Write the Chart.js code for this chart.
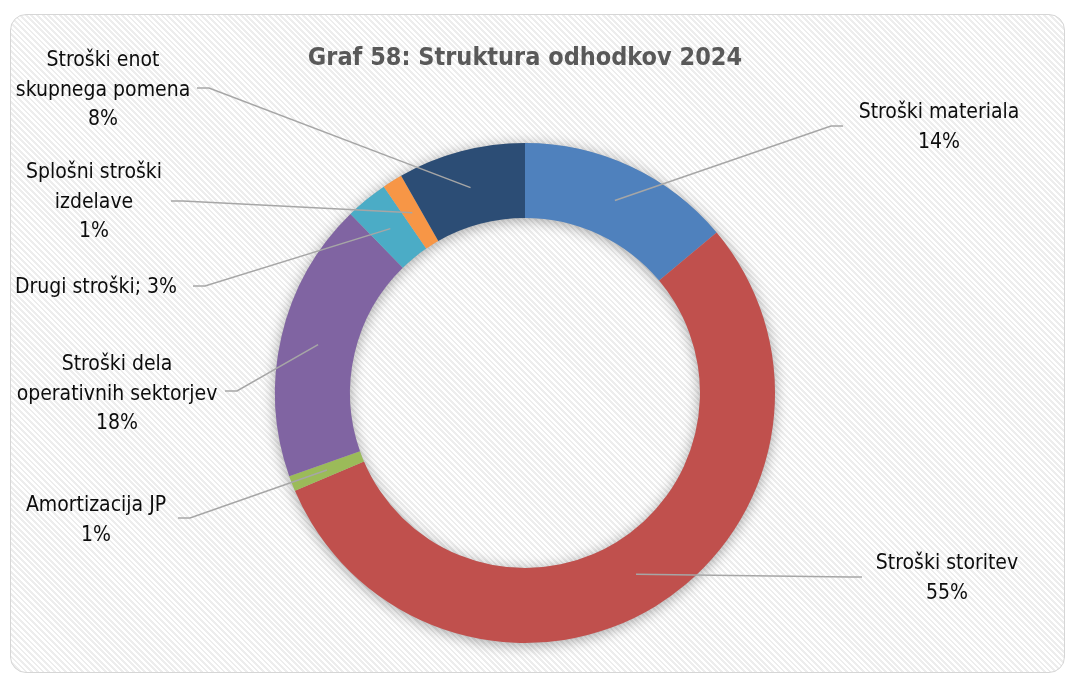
<!DOCTYPE html>
<html lang="sl">
<head>
<meta charset="utf-8">
<title>Struktura odhodkov 2024</title>
<script src="https://cdn.jsdelivr.net/npm/chart.js@4.4.1/dist/chart.umd.min.js"></script>
<style>
  html, body { margin: 0; padding: 0; background: #fff; }
  #wrap { position: relative; width: 1071px; height: 675px; overflow: hidden; }
  #panel {
    position: absolute; left: 10px; top: 14px; width: 1053px; height: 657px;
    border: 1px solid #d6d6d6; border-radius: 16px;
    background: repeating-linear-gradient(45deg, #ffffff 0px, #ffffff 2px, #ededed 2px, #ededed 4px);
  }
  #chart { position: absolute; left: 0; top: 0; }
</style>
</head>
<body>
<div id="wrap">
  <div id="panel"></div>
  <canvas id="chart" width="1071" height="675"></canvas>
</div>
<script>
const FONT = '"DejaVu Sans Condensed", "DejaVu Sans", sans-serif';

// odhodki 2024, delež v %
const categories = [
  "Stroški materiala",
  "Stroški storitev",
  "Amortizacija JP",
  "Stroški dela\noperativnih sektorjev",
  "Drugi stroški",
  "Splošni stroški\nizdelave",
  "Stroški enot\nskupnega pomena"
];
const shares = [13.9, 54.7, 1.0, 18.1, 2.75, 1.3, 8.25];
const colors = ["#4F81BD", "#C0504D", "#9BBB59", "#8064A2", "#4BACC6", "#F79646", "#2C4D75"];

// where each label sits: text centre, first line y, leader end and knee
const labelBoxes = [
  { x: 939, y: 113, end: 843, kneeX: 831, kneeY: 126 },
  { x: 947, y: 564, end: 862, kneeX: 850, kneeY: 577 },
  { x: 96,  y: 506, end: 178, kneeX: 190, kneeY: 518 },
  { x: 117, y: 365, end: 225, kneeX: 237, kneeY: 391 },
  { x: 96,  y: 288, end: 193, kneeX: 205, kneeY: 286 },
  { x: 94,  y: 173, end: 171, kneeX: 183, kneeY: 201 },
  { x: 103, y: 61,  end: 197, kneeX: 209, kneeY: 88 }
];
const inlineLabels = ["Drugi stroški"];

function pctText(i) {
  const total = shares.reduce((a, b) => a + b, 0);
  return Math.round(shares[i] / total * 100) + "%";
}

function labelLines(i) {
  const name = categories[i];
  if (inlineLabels.includes(name)) return [name + "; " + pctText(i)];
  return name.split("\n").concat(pctText(i));
}

// soft shadow under the whole ring, drawn once so slices don't shade each other
const ringShadow = {
  id: "ringShadow",
  beforeDatasetsDraw(chart) {
    const arc = chart.getDatasetMeta(0).data[0];
    if (!arc) return;
    const { x, y, outerRadius, innerRadius } = arc.getProps(["x", "y", "outerRadius", "innerRadius"]);
    const ctx = chart.ctx;
    ctx.save();
    ctx.shadowColor = "rgba(0,0,0,0.35)";
    ctx.shadowBlur = 14;
    ctx.shadowOffsetY = 2;
    ctx.fillStyle = "#bbbbbb";
    ctx.beginPath();
    ctx.arc(x, y, outerRadius, 0, Math.PI * 2);
    ctx.arc(x, y, innerRadius, Math.PI * 2, 0, true);
    ctx.fill("evenodd");
    ctx.restore();
  }
};

// data labels with leader lines
const sliceLabels = {
  id: "sliceLabels",
  afterDatasetsDraw(chart) {
    const ctx = chart.ctx;
    const arcs = chart.getDatasetMeta(0).data;
    ctx.save();
    arcs.forEach((arc, i) => {
      const box = labelBoxes[i];
      const p = arc.getCenterPoint();
      ctx.strokeStyle = "#a6a6a6";
      ctx.lineWidth = 1.5;
      ctx.beginPath();
      ctx.moveTo(p.x, p.y);
      ctx.lineTo(box.kneeX, box.kneeY);
      ctx.lineTo(box.end, box.kneeY);
      ctx.stroke();

      ctx.fillStyle = "#0d0d0d";
      ctx.font = "21px " + FONT;
      ctx.textAlign = "center";
      ctx.textBaseline = "middle";
      labelLines(i).forEach((line, k) => {
        ctx.fillText(line, box.x, box.y + k * 29.5);
      });
    });
    ctx.restore();
  }
};

new Chart(document.getElementById("chart"), {
  type: "doughnut",
  data: {
    labels: categories,
    datasets: [{
      data: shares,
      backgroundColor: colors,
      borderWidth: 0,
      hoverOffset: 0
    }]
  },
  options: {
    responsive: false,
    animation: false,
    cutout: "70%",
    layout: { padding: { top: 29, bottom: 32, left: 275, right: 296 } },
    plugins: {
      legend: { display: false },
      tooltip: { enabled: false },
      title: {
        display: true,
        text: "Graf 58: Struktura odhodkov 2024",
        color: "#595959",
        font: { family: FONT, size: 25, weight: "bold", lineHeight: 1.2 },
        padding: { top: 14, bottom: 70 }
      }
    }
  },
  plugins: [ringShadow, sliceLabels]
});
</script>
</body>
</html>
